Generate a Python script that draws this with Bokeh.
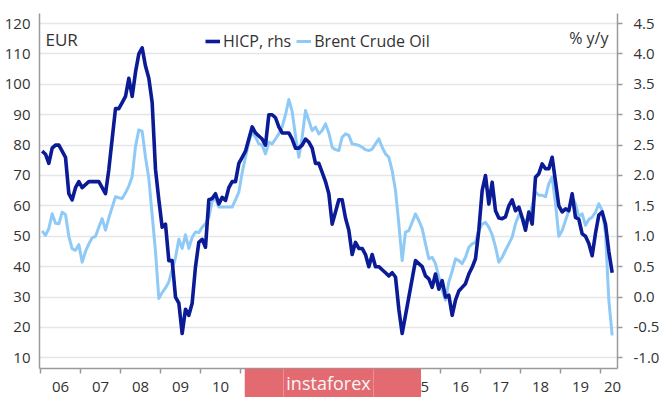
from bokeh.plotting import figure
from bokeh.layouts import column
from bokeh.models import (Range1d, LinearAxis, FixedTicker, Legend, LegendItem,
                          Label, CustomJSTickFormatter, NumeralTickFormatter)
from bokeh.embed import file_html
from bokeh.resources import INLINE

# ---------------- data ----------------
start_year = 2006  # monthly data from Jan 2006 to Apr 2020
year_labels = ["06", "07", "08", "09", "10", "11", "12", "13", "14", "15",
               "16", "17", "18", "19", "20"]

# Euro area HICP, % y/y (right axis)
hicp = [
    2.4, 2.35, 2.2, 2.45, 2.5, 2.5, 2.4, 2.3, 1.7, 1.6, 1.8, 1.9,        # 2006
    1.8, 1.85, 1.9, 1.9, 1.9, 1.9, 1.8, 1.7, 2.1, 2.6, 3.1, 3.1,         # 2007
    3.2, 3.3, 3.6, 3.3, 3.7, 4.0, 4.1, 3.8, 3.6, 3.2, 2.1, 1.6,          # 2008
    1.15, 1.2, 0.6, 0.6, 0.0, -0.1, -0.6, -0.2, -0.3, -0.1, 0.5, 0.9,    # 2009
    0.95, 0.82, 1.6, 1.62, 1.7, 1.53, 1.64, 1.59, 1.8, 1.9, 1.9, 2.2,    # 2010
    2.3, 2.4, 2.6, 2.8, 2.7, 2.65, 2.6, 2.5, 3.0, 3.0, 2.95, 2.8,        # 2011
    2.7, 2.7, 2.7, 2.6, 2.45, 2.45, 2.5, 2.6, 2.55, 2.45, 2.2, 2.2,      # 2012
    2.05, 1.9, 1.7, 1.2, 1.4, 1.6, 1.6, 1.3, 1.1, 0.7, 0.9, 0.8,         # 2013
    0.8, 0.7, 0.5, 0.7, 0.5, 0.5, 0.45, 0.4, 0.35, 0.4, 0.33, -0.2,      # 2014
    -0.6, -0.3, 0.0, 0.3, 0.6, 0.55, 0.5, 0.35, 0.3, 0.16, 0.38, 0.13,   # 2015
    0.27, 0.0, 0.03, -0.3, -0.05, 0.1, 0.16, 0.22, 0.38, 0.49, 0.63, 1.1,  # 2016
    1.75, 2.0, 1.53, 1.89, 1.42, 1.3, 1.29, 1.32, 1.5, 1.6, 1.42, 1.48,  # 2017
    1.31, 1.1, 1.4, 1.2, 1.97, 2.03, 2.19, 2.11, 2.11, 2.3, 1.9, 1.5,    # 2018
    1.4, 1.45, 1.42, 1.7, 1.31, 1.28, 1.04, 1.0, 0.88, 0.68, 1.05, 1.35,  # 2019
    1.4, 1.2, 0.75, 0.4,                                                  # 2020
]

# Brent crude oil, EUR per barrel (left axis)
brent = [
    51.8, 50.3, 52.5, 57.4, 54.3, 54.1, 57.9, 57.2, 50.0, 45.9, 45.4, 47.3,  # 2006
    41.5, 45.0, 47.5, 49.5, 50.0, 53.0, 55.8, 52.0, 56.0, 59.5, 63.0, 62.7,  # 2007
    62.4, 64.3, 66.5, 69.7, 79.5, 85.0, 84.5, 76.0, 69.0, 57.0, 45.0, 29.5,  # 2008
    31.5, 33.0, 35.0, 39.0, 43.0, 49.0, 46.0, 50.5, 46.0, 49.7, 51.4, 51.2,  # 2009
    53.0, 54.1, 56.3, 61.5, 62.5, 59.6, 59.6, 59.6, 59.6, 59.6, 62.0, 64.5,  # 2010
    71.0, 76.0, 81.0, 84.3, 82.6, 80.4, 80.0, 77.1, 81.0, 80.4, 82.0, 83.7,  # 2011
    86.0, 90.0, 95.0, 91.0, 83.0, 76.0, 82.6, 91.4, 88.1, 84.8, 85.9, 83.7,  # 2012
    84.8, 87.0, 84.0, 79.3, 78.5, 78.2, 82.6, 83.7, 83.2, 80.4, 80.2, 79.9,  # 2013
    79.3, 78.5, 78.2, 78.7, 80.4, 82.1, 79.3, 77.1, 76.0, 71.6, 65.1, 54.1,  # 2014
    42.0, 51.4, 51.9, 54.6, 57.4, 55.2, 52.5, 47.5, 42.6, 43.1, 41.0, 36.6,  # 2015
    32.2, 29.0, 35.0, 38.5, 42.6, 42.0, 41.0, 43.1, 46.4, 47.5, 48.0, 52.0,  # 2016
    54.0, 54.6, 53.0, 50.5, 46.5, 41.5, 43.1, 45.4, 47.5, 49.7, 54.1, 57.0,  # 2017
    56.0, 55.0, 56.0, 60.0, 64.5, 63.5, 63.5, 63.0, 67.3, 69.5, 60.7, 50.0,  # 2018
    51.9, 55.2, 58.5, 62.9, 60.7, 56.5, 57.4, 53.6, 55.5, 56.3, 57.9, 60.7,  # 2019
    58.5, 51.0, 29.0, 17.4,                                                  # 2020
]

left_ticks = [10, 20, 30, 40, 50, 60, 70, 80, 90, 100, 110, 120]
right_ticks = [-1.0, -0.5, 0.0, 0.5, 1.0, 1.5, 2.0, 2.5, 3.0, 3.5, 4.0, 4.5]

# ---------------- derived positions ----------------
t = [start_year + (i + 0.5) / 12 for i in range(len(hicp))]
year_bounds = [start_year + k for k in range(len(year_labels))]
label_pos = [start_year + k + 0.5 for k in range(len(year_labels) - 1)] + [2020.3]

y0, y1 = 6.5, 123.3
# rhs: 4.5 aligns with 120, -1.0 aligns with 10
r0, r1 = (y0 - 30) / 20, (y1 - 30) / 20

FONT = "Open Sans"
TXT = "#333333"
AX = "#9a9a9a"

p = figure(width=665, height=399, output_backend="svg", toolbar_location=None,
           x_range=Range1d(2005.975, 2020.425), y_range=Range1d(y0, y1),
           min_border_left=39, min_border_right=48, min_border_top=13,
           min_border_bottom=31)
p.extra_y_ranges = {"rhs": Range1d(r0, r1)}
p.outline_line_color = None
p.background_fill_color = "white"
p.border_fill_color = "white"

p.xgrid.visible = False
p.ygrid.ticker = FixedTicker(ticks=left_ticks)
p.ygrid.grid_line_color = "#e6e6e6"
p.ygrid.grid_line_width = 1.5

# left axis
ya = p.yaxis[0]
ya.ticker = FixedTicker(ticks=left_ticks)
ya.major_tick_out = 0
ya.major_tick_in = 0
ya.minor_tick_out = 0
ya.axis_line_color = AX
ya.axis_line_width = 1.5
ya.major_label_text_font = FONT
ya.major_label_text_font_size = "15px"
ya.major_label_text_color = TXT
ya.major_label_standoff = 9

# bottom axis
xa = p.xaxis[0]
xa.ticker = FixedTicker(ticks=label_pos, minor_ticks=year_bounds)
xa.formatter = CustomJSTickFormatter(args=dict(labels=year_labels),
                                     code="return labels[index];")
xa.major_tick_out = 0
xa.major_tick_in = 0
xa.minor_tick_out = 5
xa.minor_tick_in = 0
xa.minor_tick_line_color = AX
xa.minor_tick_line_width = 1.5
xa.axis_line_color = AX
xa.axis_line_width = 1.5
xa.major_label_text_font = FONT
xa.major_label_text_font_size = "15px"
xa.major_label_text_color = TXT
xa.major_label_standoff = 8

# right axis
ra = LinearAxis(y_range_name="rhs", ticker=FixedTicker(ticks=right_ticks),
                formatter=NumeralTickFormatter(format="0.0"))
ra.major_tick_out = 5
ra.major_tick_in = 0
ra.major_tick_line_color = AX
ra.major_tick_line_width = 1.5
ra.axis_line_color = AX
ra.axis_line_width = 1.5
ra.major_label_text_font = FONT
ra.major_label_text_font_size = "15px"
ra.major_label_text_color = TXT
ra.major_label_standoff = 11
p.add_layout(ra, "right")

# lines
r_b = p.line(t, brent, line_color="#8fcaf6", line_width=3, line_join="round")
r_h = p.line(t, hicp, y_range_name="rhs", line_color="#0b1a95", line_width=3.6,
             line_join="round")

legend = Legend(items=[LegendItem(label="HICP, rhs", renderers=[r_h]),
                       LegendItem(label="Brent Crude Oil", renderers=[r_b])],
                location=(166, 316), orientation="horizontal",
                border_line_color=None, background_fill_alpha=0,
                padding=0, margin=0, spacing=5, label_standoff=3,
                glyph_width=15, glyph_height=18, label_height=18,
                label_text_font=FONT, label_text_font_size="16px",
                label_text_color=TXT)
p.add_layout(legend)

p.add_layout(Label(x=2006.125, y=114.9, text="EUR", text_font=FONT,
                   text_font_size="17px", text_color=TXT,
                   text_baseline="middle", text_align="left"))
p.add_layout(Label(x=2020.2, y=115.2, text="% y/y", text_font=FONT,
                   text_font_size="16px", text_color=TXT,
                   text_baseline="middle", text_align="right"))

# watermark badge, overlapping the bottom of the chart
WM = "#e36a70"
wm = figure(width=177, height=29, output_backend="svg", toolbar_location=None,
            x_range=Range1d(0, 1), y_range=Range1d(0, 1),
            x_axis_type=None, y_axis_type=None, min_border=0,
            margin=(-31, 0, 0, 244))
wm.outline_line_color = None
wm.background_fill_color = WM
wm.border_fill_color = WM
wm.add_layout(Label(x=0.5, y=0.5, text="instaforex", text_font=FONT,
                    text_font_size="18px", text_color="#f7f7f7",
                    text_baseline="middle", text_align="center"))

layout = column(p, wm, spacing=0)
open("out.html", "w").write(file_html(layout, INLINE))
